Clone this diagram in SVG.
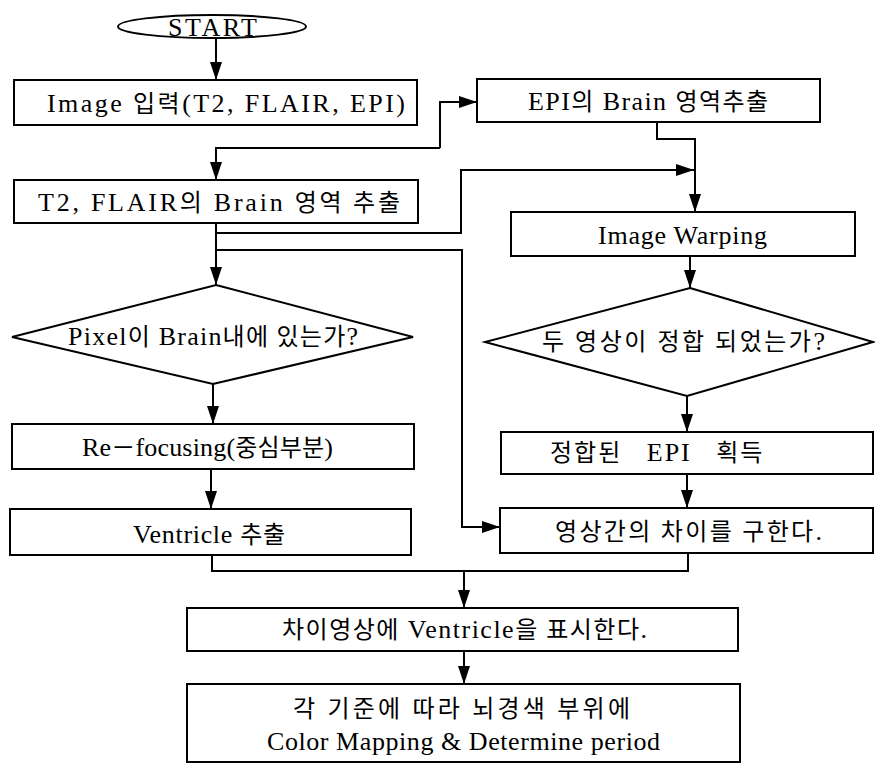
<svg xmlns="http://www.w3.org/2000/svg" width="875" height="765" viewBox="0 0 875 765">
<style>
.box{fill:#fff;stroke:#000;stroke-width:2}
.conn{fill:none;stroke:#000;stroke-width:2}
.arr{marker-end:url(#ah)}
text{font-family:"Liberation Serif","Noto Sans CJK KR",serif;font-size:26px;fill:#000}
.k{font-size:24px}
</style>
<defs>
<marker id="ah" markerUnits="userSpaceOnUse" markerWidth="18" markerHeight="12" refX="18" refY="6" orient="auto"><path d="M0,0 L18,6 L0,12 z" fill="#000"/></marker>
</defs>
<rect width="875" height="765" fill="#fff"/>
<g id="connectors">
<path class="conn arr" d="M216,38 V80"/>
<path class="conn arr" d="M440,148 H216 V180"/>
<path class="conn arr" d="M440,148 V102 H477"/>
<path class="conn arr" d="M657,122 V139 H695 V212"/>
<path class="conn arr" d="M216,222 V233 H461 V170 H694"/>
<path class="conn arr" d="M216,233 V285"/>
<path class="conn arr" d="M216,250 H462 V527 H500"/>
<path class="conn arr" d="M213,384 V424"/>
<path class="conn arr" d="M211,469 V509"/>
<path class="conn arr" d="M690,256 V288"/>
<path class="conn arr" d="M687,396 V432"/>
<path class="conn arr" d="M687,474 V508"/>
<path class="conn" d="M212,555 V571 H688 V553"/>
<path class="conn arr" d="M464,571 V608"/>
<path class="conn arr" d="M464,651 V684"/>
</g>
<g id="start">
<ellipse class="box" cx="212" cy="26.5" rx="94" ry="11.5"/>
<text x="168" y="36" font-size="25" textLength="89" lengthAdjust="spacing">START</text>
</g>
<g id="image-input">
<rect class="box" x="14" y="80" width="403" height="45"/>
<text x="47" y="112" textLength="358" lengthAdjust="spacing">Image <tspan class="k">입력</tspan>(T2, FLAIR, EPI)</text>
</g>
<g id="epi-brain">
<rect class="box" x="477" y="79" width="343" height="43"/>
<text x="528" y="110" textLength="240" lengthAdjust="spacing">EPI<tspan class="k">의</tspan> Brain <tspan class="k">영역추출</tspan></text>
</g>
<g id="t2-flair-brain">
<rect class="box" x="14" y="180" width="404" height="43"/>
<text x="38" y="211" textLength="362" lengthAdjust="spacing">T2, FLAIR<tspan class="k">의</tspan> Brain <tspan class="k">영역 추출</tspan></text>
</g>
<g id="image-warping">
<rect class="box" x="511" y="212" width="344" height="44"/>
<text x="598" y="244" textLength="169" lengthAdjust="spacing">Image Warping</text>
</g>
<g id="pixel-in-brain">
<polygon class="box" points="216,285 413,337 213,384 12,337"/>
<text x="68" y="345" textLength="290" lengthAdjust="spacing">Pixel<tspan class="k">이</tspan> Brain<tspan class="k">내에 있는가</tspan>?</text>
</g>
<g id="registered-check">
<polygon class="box" points="690,288 873,342 687,396 485,342"/>
<text x="542" y="350" textLength="283" lengthAdjust="spacing"><tspan class="k">두 영상이 정합 되었는가</tspan>?</text>
</g>
<g id="refocusing">
<rect class="box" x="12" y="424" width="402" height="45"/>
<text x="82" y="456" textLength="251" lengthAdjust="spacing">Re<tspan class="k">－</tspan>focusing(<tspan class="k">중심부분</tspan>)</text>
</g>
<g id="registered-epi">
<rect class="box" x="501" y="432" width="372" height="42"/>
<text x="550" y="461" word-spacing="16" letter-spacing="2"><tspan class="k">정합된</tspan> EPI <tspan class="k">획득</tspan></text>
</g>
<g id="ventricle">
<rect class="box" x="10" y="509" width="401" height="46"/>
<text x="133" y="543" textLength="152" lengthAdjust="spacing">Ventricle <tspan class="k">추출</tspan></text>
</g>
<g id="difference">
<rect class="box" x="500" y="508" width="373" height="45"/>
<text x="555" y="540" textLength="267" lengthAdjust="spacing"><tspan class="k">영상간의 차이를 구한다</tspan>.</text>
</g>
<g id="mark-ventricle">
<rect class="box" x="187" y="608" width="551" height="43"/>
<text x="282" y="638" textLength="365" lengthAdjust="spacing"><tspan class="k">차이영상에</tspan> Ventricle<tspan class="k">을 표시한다</tspan>.</text>
</g>
<g id="color-mapping">
<rect class="box" x="187" y="684" width="553" height="78"/>
<text x="293" y="717" textLength="337" lengthAdjust="spacing"><tspan class="k">각 기준에 따라 뇌경색 부위에</tspan></text>
<text x="267" y="750" textLength="393" lengthAdjust="spacing">Color Mapping &amp; Determine period</text>
</g>
</svg>
